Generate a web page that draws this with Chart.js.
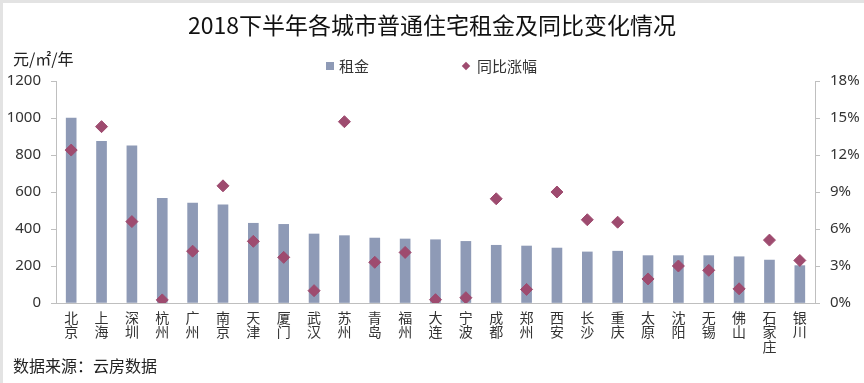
<!DOCTYPE html>
<html><head><meta charset="utf-8">
<script src="https://cdn.jsdelivr.net/npm/chart.js@4/dist/chart.umd.min.js"></script>
<style>
html,body{margin:0;padding:0;background:#fff;}
#wrap{position:relative;width:864px;height:383px;overflow:hidden;font-family:"Noto Sans CJK SC","Noto Sans",sans-serif;color:#222;}
#wrap:before{content:"";position:absolute;left:0;top:0;width:864px;height:3px;background:#e3e3e3;}
#wrap:after{content:"";position:absolute;left:0;top:0;width:3px;height:383px;background:#e3e3e3;}
canvas{position:absolute;left:0;top:0;}
.t{position:absolute;white-space:nowrap;line-height:1;}
</style></head>
<body><div id="wrap">
<canvas id="c" width="864" height="383"></canvas>
<div class="t" id="title" style="left:0;width:864px;text-align:center;top:13px;font-size:23px;color:#111;">2018下半年各城市普通住宅租金及同比变化情况</div>
<div class="t" style="left:13px;top:50px;font-size:16px;color:#222;">元/㎡/年</div>
<div class="t" style="left:326px;top:62px;width:8px;height:8px;background:#8E9AB6;"></div>
<div class="t" style="left:339px;top:58px;font-size:15px;color:#333;">租金</div>
<div class="t" style="left:463px;top:63px;width:6px;height:6px;background:#9E4B6F;transform:rotate(45deg);"></div>
<div class="t" style="left:477px;top:58px;font-size:15px;color:#333;">同比涨幅</div>
<div class="t" style="left:13px;top:357px;font-size:16px;color:#222;">数据来源：云房数据</div>
</div>
<script>
const cities = [['北','京'],['上','海'],['深','圳'],['杭','州'],['广','州'],['南','京'],['天','津'],['厦','门'],['武','汉'],['苏','州'],['青','岛'],['福','州'],['大','连'],['宁','波'],['成','都'],['郑','州'],['西','安'],['长','沙'],['重','庆'],['太','原'],['沈','阳'],['无','锡'],['佛','山'],['石','家','庄'],['银','川']];
const rent = [1000,874,849,566,540,531,431,425,373,364,351,346,342,333,312,308,297,276,280,256,256,256,250,232,202];
const yoy = [12.4,14.3,6.6,0.25,4.2,9.5,5.0,3.7,1.0,14.7,3.3,4.1,0.27,0.43,8.45,1.1,9.0,6.75,6.55,1.95,3.0,2.65,1.15,5.1,3.45];
const leftTicks = [0,200,400,600,800,1000,1200];
const rightTicks = [0,3,6,9,12,15,18];

const axisGray = '#BFBFBF';
const tickFont = {family:'"Noto Sans","Noto Sans CJK SC",sans-serif', size:15};
new Chart(document.getElementById('c'), {
  data: {
    labels: cities,
    datasets: [
      {type:'scatter', label:'同比涨幅', data: yoy, yAxisID:'y1', backgroundColor:'#9E4B6F', borderColor:'#9E4B6F', pointStyle:'rectRot', pointRadius:6, showLine:false, order:0},
      {type:'bar', label:'租金', data: rent, yAxisID:'y', backgroundColor:'#8E9AB6', barThickness:10, order:1}
    ]
  },
  options: {
    responsive:false, animation:false,
    layout:{padding:{top:81,left:0,right:0,bottom:0}},
    plugins:{legend:{display:false}, title:{display:false}, tooltip:{enabled:false}},
    scales:{
      x:{type:'category', offset:true,
         grid:{display:false, drawTicks:false},
         border:{color:axisGray},
         ticks:{color:'#333', font:{family:'"Noto Sans CJK SC",sans-serif', size:14, lineHeight:1.05}, padding:7, maxRotation:0, autoSkip:false},
         afterFit:s=>{s.height=80;}},
      y:{position:'left', min:0, max:1200,
         afterBuildTicks:s=>{s.ticks=leftTicks.map(v=>({value:v}));},
         grid:{drawOnChartArea:false, color:axisGray, tickLength:5},
         border:{color:axisGray},
         ticks:{color:'#333', font:tickFont, padding:10, callback:v=>String(v)},
         afterFit:s=>{s.width=56;}},
      y1:{position:'right', min:0, max:18,
         afterBuildTicks:s=>{s.ticks=rightTicks.map(v=>({value:v}));},
         grid:{drawOnChartArea:false, color:axisGray, tickLength:5},
         border:{color:axisGray},
         ticks:{color:'#333', font:tickFont, padding:10, callback:v=>v+'%'},
         afterFit:s=>{s.width=49;}}
    }
  }
});
</script>
</body></html>
